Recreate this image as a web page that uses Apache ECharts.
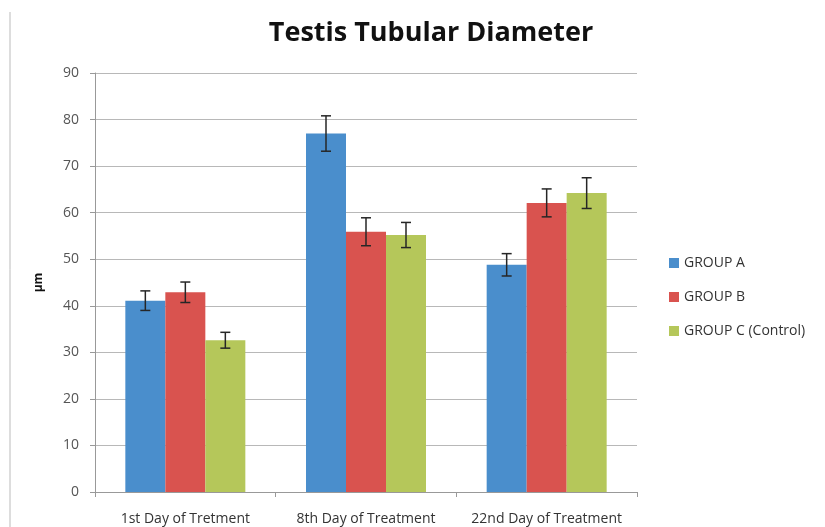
<!DOCTYPE html>
<html>
<head>
<meta charset="utf-8">
<script src="https://cdn.jsdelivr.net/npm/echarts@6/dist/echarts.min.js"></script>
<style>
  html, body { margin: 0; padding: 0; background: #fff; }
  #chart { width: 825px; height: 527px; }
</style>
</head>
<body>
<div id="chart"></div>
<script>
// categories and values
const categories = ["1st Day of Tretment", "8th Day of Treatment", "22nd Day of Treatment"];
const groupA = [41.1, 77.0, 48.8];
const groupB = [42.9, 55.9, 62.1];
const groupC = [32.6, 55.2, 64.2];
// half-length of error bars
const errA = [2.1, 3.8, 2.4];
const errB = [2.2, 3.0, 3.0];
const errC = [1.7, 2.7, 3.3];
const yTicks = [0, 10, 20, 30, 40, 50, 60, 70, 80, 90];

const BAR_W = 40;
const font = "Open Sans";

function errSeries(vals, errs, offset) {
  return {
    type: "custom",
    z: 10,
    silent: true,
    data: vals.map((v, i) => [i, v - errs[i], v + errs[i]]),
    renderItem: function (params, api) {
      const lo = api.coord([api.value(0), api.value(1)]);
      const hi = api.coord([api.value(0), api.value(2)]);
      const x = lo[0] + offset;
      const cap = 5;
      const style = { stroke: "#262626", lineWidth: 1.5 };
      return {
        type: "group",
        children: [
          { type: "line", shape: { x1: x, y1: lo[1], x2: x, y2: hi[1] }, style: style },
          { type: "line", shape: { x1: x - cap, y1: lo[1], x2: x + cap, y2: lo[1] }, style: style },
          { type: "line", shape: { x1: x - cap, y1: hi[1], x2: x + cap, y2: hi[1] }, style: style }
        ]
      };
    }
  };
}

const chart = echarts.init(document.getElementById("chart"));
chart.setOption({
  animation: false,
  textStyle: { fontFamily: font },
  title: {
    text: "Testis Tubular Diameter",
    left: 426,
    textAlign: "center",
    top: 15,
    textStyle: { fontFamily: font, fontSize: 27, fontWeight: "bold", color: "#111" }
  },
  legend: {
    orient: "vertical",
    left: 664,
    top: 251,
    itemWidth: 10,
    itemHeight: 10,
    itemGap: 20,
    icon: "rect",
    textStyle: { fontFamily: font, fontSize: 14, color: "#333" },
    data: ["GROUP A", "GROUP B", "GROUP C (Control)"]
  },
  grid: { left: 95, right: 188, top: 73, bottom: 35 },
  xAxis: {
    type: "category",
    data: categories,
    boundaryGap: true,
    axisLine: { lineStyle: { color: "#999" } },
    axisTick: { show: true, length: 5, lineStyle: { color: "#999" } },
    axisLabel: { interval: 0, hideOverlap: false, fontFamily: font, fontSize: 14, color: "#333", margin: 20 }
  },
  yAxis: {
    type: "value",
    min: yTicks[0],
    max: yTicks[yTicks.length - 1],
    interval: 10,
    name: "µm",
    nameLocation: "middle",
    nameRotate: 90,
    nameGap: 50,
    nameTextStyle: { fontFamily: font, fontSize: 12, fontWeight: "bold", color: "#111" },
    axisLine: { show: true, lineStyle: { color: "#999" } },
    axisTick: { show: true, length: 5, lineStyle: { color: "#999" } },
    axisLabel: { fontFamily: font, fontSize: 14, color: "#555", margin: 16 },
    splitLine: { lineStyle: { color: "#b8b8b8", width: 1 } }
  },
  graphic: [
    { type: "line", shape: { x1: 10, y1: 12, x2: 10, y2: 527 }, style: { stroke: "#bbb", lineWidth: 1 } }
  ],
  series: [
    { name: "GROUP A", type: "bar", data: groupA, barWidth: BAR_W, barGap: "0%", itemStyle: { color: "#4A8ECC" } },
    { name: "GROUP B", type: "bar", data: groupB, barWidth: BAR_W, barGap: "0%", itemStyle: { color: "#D9534F" } },
    { name: "GROUP C (Control)", type: "bar", data: groupC, barWidth: BAR_W, barGap: "0%", itemStyle: { color: "#B5C75A" } },
    errSeries(groupA, errA, -BAR_W),
    errSeries(groupB, errB, 0),
    errSeries(groupC, errC, BAR_W)
  ]
});
</script>
</body>
</html>
